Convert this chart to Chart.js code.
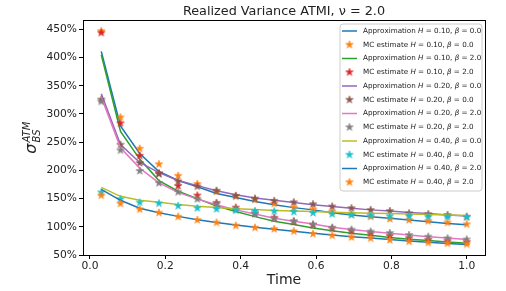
<!DOCTYPE html>
<html>
<head>
<meta charset="utf-8">
<script src="https://cdn.jsdelivr.net/npm/chart.js@4.4.0/dist/chart.umd.min.js"></script>
<style>
html, body { margin: 0; padding: 0; background: #fff; }
#wrap { width: 506px; height: 291px; }
</style>
</head>
<body>
<div id="wrap"><canvas id="chart" width="506" height="291"></canvas></div>
<script>
const times = [0.030, 0.081, 0.132, 0.183, 0.234, 0.285, 0.336, 0.387, 0.438, 0.489,
               0.541, 0.592, 0.643, 0.694, 0.745, 0.796, 0.847, 0.898, 0.949, 1.000];

// values in percent
const approxH10B0 = [411, 279, 230, 198, 182, 171, 159, 152, 145, 139, 134, 130, 125, 121, 118, 115, 112, 109, 106, 103.5];
const mcH10B0     = [447, 294, 238.5, 211, 190.5, 176, 162.5, 154, 148, 141, 134, 130.5, 127, 122, 118, 114, 112, 110, 107.5, 104.5];
const approxH10B2 = [405, 269, 220, 182, 163, 150, 137, 127, 118, 110, 104, 98, 93, 88.5, 85, 81, 78, 75.5, 73, 71];
const mcH10B2     = [444, 283.5, 226, 195, 172.5, 155.5, 142.5, 134, 124, 116, 109, 103, 97, 92, 88, 84, 80, 77, 75, 73];
const approxH20B0 = [336, 246, 214, 196, 182, 173, 164, 157, 151, 147, 143, 139, 136, 133, 130, 128, 125.5, 123.5, 121, 119];
const mcH20B0     = [325.5, 245.5, 213, 193.5, 180.5, 171.5, 164, 155, 150, 146, 143.5, 140, 136, 133, 130, 128, 124, 122.5, 121, 118];
const approxH20B2 = [330, 240, 204, 178, 161, 149, 139, 130, 122.5, 115, 110, 105, 99, 95, 91.5, 88.5, 85.5, 82.5, 80, 77.5];
const mcH20B2     = [322, 235.5, 199, 177.5, 161.5, 149, 140, 130, 122.5, 114.5, 110, 104.5, 98.5, 95, 91.5, 89, 85.5, 82.5, 79.5, 77.5];
const approxH40B0 = [170, 154, 147, 143.5, 139.5, 136.5, 134, 132, 130.5, 129, 128, 127, 126, 125, 124, 123.5, 122.5, 122, 121, 120];
const mcH40B0     = [161, 149, 143, 141.5, 137, 133, 131.5, 129.5, 128, 127.5, 126.5, 124.5, 122.5, 121, 120, 118.5, 119, 118, 117.5, 117];
const approxH40B2 = [166.5, 147, 133, 125, 118.5, 112.5, 107.5, 103, 99, 95.5, 92, 88.5, 85.5, 82.5, 80, 77.5, 75, 72.5, 70.5, 68.5];
const mcH40B2     = [155.5, 141, 131, 125, 118, 112, 107.5, 102, 98.5, 96, 92, 87.5, 84.5, 81.5, 79.5, 76.5, 74, 72, 70.5, 69];

const hursts = [0.10, 0.20, 0.40];
const betas = [0.0, 2.0];
const xTicks = [0.0, 0.2, 0.4, 0.6, 0.8, 1.0];
const yTicks = [50, 100, 150, 200, 250, 300, 350, 400, 450];

const palette = ['#1f77b4', '#ff7f0e', '#2ca02c', '#d62728', '#9467bd', '#8c564b',
                 '#e377c2', '#7f7f7f', '#bcbd22', '#17becf', '#1f77b4', '#ff7f0e'];

const seriesValues = [
    [approxH10B0, mcH10B0], [approxH10B2, mcH10B2],
    [approxH20B0, mcH20B0], [approxH20B2, mcH20B2],
    [approxH40B0, mcH40B0], [approxH40B2, mcH40B2]
];

function makeStar(color, r) {
    const size = Math.ceil(r * 2 + 2);
    const c = document.createElement('canvas');
    c.width = c.height = size;
    const g = c.getContext('2d');
    const cx = size / 2, cy = size / 2;
    g.beginPath();
    for (let k = 0; k < 10; k++) {
        const rad = k % 2 === 0 ? r : r * 0.382;
        const a = -Math.PI / 2 + k * Math.PI / 5;
        const px = cx + rad * Math.cos(a), py = cy + rad * Math.sin(a);
        if (k === 0) g.moveTo(px, py); else g.lineTo(px, py);
    }
    g.closePath();
    g.fillStyle = color;
    g.fill();
    g.strokeStyle = color;
    g.lineWidth = 0.6;
    g.stroke();
    return c;
}

const datasets = [];
hursts.forEach((h, hi) => {
    betas.forEach((b, bi) => {
        const [approx, mc] = seriesValues[hi * 2 + bi];
        const tag = `H = ${h.toFixed(2)}, β = ${b.toFixed(1)}`;
        const ci = datasets.length;
        datasets.push({
            label: 'Approximation ' + tag,
            data: times.map((t, i) => ({ x: t, y: approx[i] })),
            showLine: true,
            borderColor: palette[ci],
            backgroundColor: palette[ci],
            borderWidth: 1.5,
            pointRadius: 0,
            tension: 0
        });
        datasets.push({
            label: 'MC estimate ' + tag,
            data: times.map((t, i) => ({ x: t, y: mc[i] })),
            showLine: false,
            pointStyle: makeStar(palette[ci + 1], 4),
            pointRadius: 4
        });
    });
});
// later series on top, like matplotlib
datasets.forEach((d, i) => { d.order = datasets.length - i; });

const FONT = '"DejaVu Sans", sans-serif';
const INK = '#222';

const framePlugin = {
    id: 'frame',
    afterDraw(chart) {
        const { ctx, chartArea: a } = chart;
        ctx.save();
        ctx.strokeStyle = '#000';
        ctx.lineWidth = 1;
        ctx.strokeRect(Math.round(a.left) + 0.5, Math.round(a.top) + 0.5,
                       Math.round(a.right - a.left), Math.round(a.bottom - a.top));
        ctx.restore();
    }
};

const yLabelPlugin = {
    id: 'yLabel',
    afterDraw(chart) {
        const { ctx, chartArea: a } = chart;
        ctx.save();
        ctx.translate(31, (a.top + a.bottom) / 2);
        ctx.rotate(-Math.PI / 2);
        ctx.fillStyle = INK;
        ctx.textBaseline = 'alphabetic';
        ctx.font = 'italic 16px ' + FONT;
        const x0 = -16;
        ctx.fillText('σ', x0, 5);
        const w = ctx.measureText('σ').width;
        ctx.font = 'italic 10px ' + FONT;
        ctx.fillText('ATM', x0 + w + 1, -1);
        ctx.fillText('BS', x0 + w + 1, 9);
        ctx.restore();
    }
};

const legendPlugin = {
    id: 'starLegend',
    afterDraw(chart) {
        const ctx = chart.ctx;
        const bx = 340, by = 24, bw = 142, bh = 167, r = 3;
        ctx.save();
        ctx.beginPath();
        ctx.moveTo(bx + r, by);
        ctx.arcTo(bx + bw, by, bx + bw, by + bh, r);
        ctx.arcTo(bx + bw, by + bh, bx, by + bh, r);
        ctx.arcTo(bx, by + bh, bx, by, r);
        ctx.arcTo(bx, by, bx + bw, by, r);
        ctx.closePath();
        ctx.fillStyle = 'rgba(255,255,255,0.8)';
        ctx.fill();
        ctx.strokeStyle = '#cccccc';
        ctx.lineWidth = 1;
        ctx.stroke();

        ctx.textBaseline = 'middle';
        chart.data.datasets.forEach((ds, i) => {
            const cy = 31 + i * 13.75;
            if (ds.showLine) {
                ctx.strokeStyle = ds.borderColor;
                ctx.lineWidth = 1.5;
                ctx.beginPath();
                ctx.moveTo(342, cy);
                ctx.lineTo(357, cy);
                ctx.stroke();
            } else {
                const img = ds.pointStyle;
                ctx.drawImage(img, 349.5 - img.width / 2, cy - img.height / 2);
            }
            let x = 363;
            ctx.fillStyle = INK;
            for (const ch of ds.label) {
                const italic = ch === 'H' || ch === 'β';
                ctx.font = (italic ? 'italic ' : '') + '7.2px ' + FONT;
                ctx.fillText(ch, x, cy);
                x += ctx.measureText(ch).width;
            }
        });
        ctx.restore();
    }
};

new Chart(document.getElementById('chart'), {
    type: 'scatter',
    data: { datasets: datasets },
    options: {
        responsive: false,
        devicePixelRatio: 1,
        animation: false,
        layout: { padding: { left: 0, right: 21, top: 0, bottom: 0 } },
        plugins: {
            legend: { display: false },
            tooltip: { enabled: false },
            title: {
                display: true,
                fullSize: false,
                text: 'Realized Variance ATMI, ν = 2.0',
                color: INK,
                font: { family: FONT, size: 12.8, weight: 'normal' },
                padding: { top: 4, bottom: 1 }
            }
        },
        scales: {
            x: {
                type: 'linear',
                min: -0.0185,
                max: 1.0485,
                afterFit(scale) { scale.height = 36; },
                afterBuildTicks(scale) { scale.ticks = xTicks.map(v => ({ value: v })); },
                grid: { display: true, drawOnChartArea: false, drawTicks: true, tickLength: 4, color: '#000' },
                border: { display: true, color: '#000', width: 1 },
                ticks: {
                    color: INK,
                    font: { family: FONT, size: 10.7 },
                    padding: 1,
                    maxRotation: 0,
                    callback: v => v.toFixed(1)
                },
                title: {
                    display: true,
                    text: 'Time',
                    color: INK,
                    font: { family: FONT, size: 14 },
                    padding: { top: 0, bottom: 2 }
                }
            },
            y: {
                type: 'linear',
                min: 50,
                max: 466,
                afterFit(scale) { scale.width = 83; },
                afterBuildTicks(scale) { scale.ticks = yTicks.map(v => ({ value: v })); },
                grid: { display: true, drawOnChartArea: false, drawTicks: true, tickLength: 4, color: '#000' },
                border: { display: true, color: '#000', width: 1 },
                ticks: {
                    color: INK,
                    font: { family: FONT, size: 10.7 },
                    padding: 2,
                    callback: v => v + '%'
                }
            }
        }
    },
    plugins: [framePlugin, yLabelPlugin, legendPlugin]
});
</script>
</body>
</html>
